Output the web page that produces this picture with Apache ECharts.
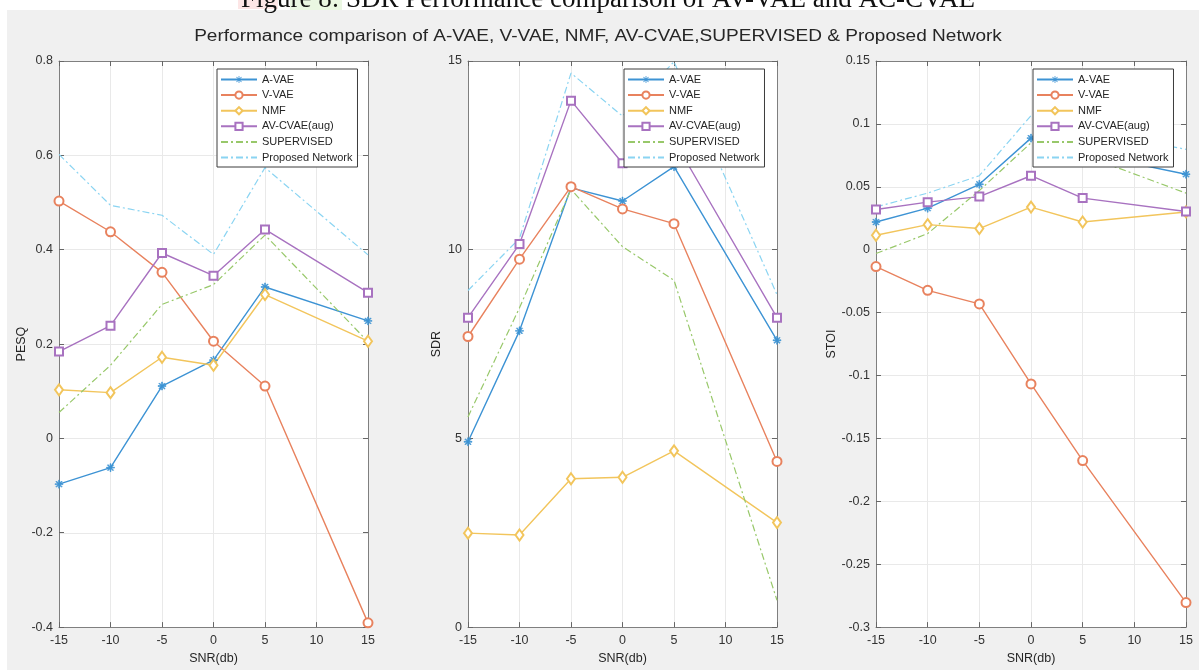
<!DOCTYPE html>
<html><head><meta charset="utf-8">
<script src="https://cdn.jsdelivr.net/npm/echarts@6/dist/echarts.min.js"></script>
<style>html,body{margin:0;padding:0;background:#fff}#c{width:1199px;height:670px}</style>
</head><body><div id="c"></div>
<script>
// ---- data ----
const snr = [-15, -10, -5, 0, 5, 15];
const seriesNames = ['A-VAE', 'V-VAE', 'NMF', 'AV-CVAE(aug)', 'SUPERVISED', 'Proposed Network'];

const pesqAVAE  = [-0.097, -0.062, 0.111, 0.166, 0.321, 0.249];
const pesqVVAE  = [0.503, 0.438, 0.352, 0.206, 0.111, -0.391];
const pesqNMF   = [0.103, 0.097, 0.172, 0.155, 0.305, 0.206];
const pesqAVC   = [0.184, 0.239, 0.393, 0.345, 0.443, 0.309];
const pesqSUP   = [0.055, 0.155, 0.284, 0.326, 0.431, 0.205];
const pesqPROP  = [0.602, 0.494, 0.473, 0.390, 0.574, 0.389];

const sdrAVAE   = [4.91, 7.85, 11.64, 11.29, 12.20, 7.60];
const sdrVVAE   = [7.70, 9.75, 11.67, 11.08, 10.69, 4.39];
const sdrNMF    = [2.49, 2.44, 3.93, 3.97, 4.67, 2.77];
const sdrAVC    = [8.20, 10.15, 13.95, 12.29, 12.90, 8.20];
const sdrSUP    = [5.57, 8.46, 11.60, 10.08, 9.19, 0.71];
const sdrPROP   = [8.92, 10.30, 14.68, 13.54, 14.98, 8.81];

const stoiAVAE  = [0.022, 0.033, 0.052, 0.0887, 0.077, 0.060];
const stoiVVAE  = [-0.0134, -0.0323, -0.0431, -0.1067, -0.1676, -0.2805];
const stoiNMF   = [0.0115, 0.0199, 0.0168, 0.0339, 0.022, 0.030];
const stoiAVC   = [0.032, 0.0378, 0.0422, 0.0588, 0.041, 0.0304];
const stoiSUP   = [-0.003, 0.0128, 0.047, 0.085, 0.0754, 0.045];
const stoiPROP  = [0.034, 0.045, 0.0588, 0.1066, 0.095, 0.0798];

const xMin = -15, xMax = 15, xInterval = 5;
const panelNames = ['PESQ', 'SDR', 'STOI'];
const panelMin = [-0.4, 0, -0.3];
const panelMax = [0.8, 15, 0.15];
const panelInterval = [0.2, 5, 0.05];
const panelData = [
  [pesqAVAE, pesqVVAE, pesqNMF, pesqAVC, pesqSUP, pesqPROP],
  [sdrAVAE, sdrVVAE, sdrNMF, sdrAVC, sdrSUP, sdrPROP],
  [stoiAVAE, stoiVVAE, stoiNMF, stoiAVC, stoiSUP, stoiPROP]
];
const titleText = 'Performance comparison of A-VAE, V-VAE, NMF, AV-CVAE,SUPERVISED & Proposed Network';
const captionText = 'Figure 8: SDR Performance comparison of AV-VAE and AC-CVAE';

// ---- styles ----
const FONT = 'Liberation Sans';
const colors = ['#3d93d4', '#e8825e', '#f2c55c', '#a872c0', '#98c86a', '#8ad4f2'];
const asterisk = 'path://M-5,-0.55L5,-0.55L5,0.55L-5,0.55Z M-0.55,-5L0.55,-5L0.55,5L-0.55,5Z M-3.1,-3.9L3.9,3.1L3.1,3.9L-3.9,-3.1Z M3.1,-3.9L3.9,-3.1L-3.1,3.9L-3.9,3.1Z';
const symbols = [asterisk, 'emptyCircle', 'emptyDiamond', 'emptyRect', 'none', 'none'];
const symbolSizes = [8, 9, [8, 11], 8, 0, 0];
const lineTypes = ['solid', 'solid', 'solid', 'solid', [7, 3, 2, 3], [7, 3, 2, 3]];
const lineWidths = [1.4, 1.4, 1.4, 1.4, 1.2, 1.2];

const grids = [
  { left: 59, top: 61, width: 309, height: 572 },
  { left: 468, top: 61, width: 309, height: 572 },
  { left: 876, top: 61, width: 310, height: 572 }
];
const legendLeft = [217, 624, 1033];
const yNameGap = [31, 25, 35];

const axisLineStyle = { color: '#7f7f7f', width: 1 };
const tickStyle = { show: true, inside: true, length: 5, lineStyle: { color: '#666' } };
const labelStyle = { color: '#333', fontSize: 12.5, fontFamily: FONT };

const xAxes = [], yAxes = [], series = [], legends = [];
for (let g = 0; g < 3; g++) {
  xAxes.push({
    type: 'value', gridIndex: g, min: xMin, max: xMax, interval: xInterval, position: 'bottom',
    name: 'SNR(db)', nameLocation: 'middle', nameGap: 23,
    nameTextStyle: { color: '#262626', fontSize: 12.5, fontFamily: FONT },
    axisLine: { show: true, onZero: false, lineStyle: axisLineStyle },
    axisTick: tickStyle, axisLabel: Object.assign({ margin: 7 }, labelStyle),
    splitLine: { show: true, lineStyle: { color: '#e9e9e9' } }
  });
  yAxes.push({
    type: 'value', gridIndex: g, min: panelMin[g], max: panelMax[g], interval: panelInterval[g], position: 'left',
    name: panelNames[g], nameLocation: 'middle', nameGap: yNameGap[g],
    nameTextStyle: { color: '#262626', fontSize: 12.5, fontFamily: FONT },
    axisLine: { show: true, onZero: false, lineStyle: axisLineStyle },
    axisTick: tickStyle, axisLabel: Object.assign({ margin: 6 }, labelStyle),
    splitLine: { show: true, lineStyle: { color: '#e9e9e9' } }
  });
}
for (let g = 0; g < 3; g++) {
  xAxes.push({
    type: 'value', gridIndex: g, min: xMin, max: xMax, interval: xInterval, position: 'top',
    axisLine: { show: true, onZero: false, lineStyle: axisLineStyle },
    axisTick: tickStyle, axisLabel: { show: false }, splitLine: { show: false }
  });
  yAxes.push({
    type: 'value', gridIndex: g, min: panelMin[g], max: panelMax[g], interval: panelInterval[g], position: 'right',
    axisLine: { show: true, onZero: false, lineStyle: axisLineStyle },
    axisTick: tickStyle, axisLabel: { show: false }, splitLine: { show: false }
  });
}
const legendData = seriesNames.map((n, s) => {
  if (symbols[s] === 'none') return { name: n, itemStyle: { opacity: 0 } };
  if (symbols[s].indexOf('path://') === 0) return { name: n, itemStyle: { borderWidth: 0 } };
  return { name: n };
});
for (let g = 0; g < 3; g++) {
  for (let s = 0; s < 6; s++) {
    series.push({
      type: 'line', name: seriesNames[s], xAxisIndex: g, yAxisIndex: g,
      data: snr.map((x, i) => [x, panelData[g][s][i]]),
      symbol: symbols[s], symbolSize: symbolSizes[s], showSymbol: symbols[s] !== 'none',
      lineStyle: { color: colors[s], width: lineWidths[s], type: lineTypes[s] },
      itemStyle: { color: colors[s], borderColor: colors[s], borderWidth: s === 0 ? 0.6 : 1.2 },
      emphasis: { disabled: true }, animation: false, silent: true
    });
  }
  legends.push({
    orient: 'vertical', left: legendLeft[g], top: 69, data: legendData,
    itemWidth: 36, itemHeight: 9, itemGap: 2.6, padding: [4, 5, 3, 3],
    borderColor: '#3c3c3c', borderWidth: 1, backgroundColor: '#fff', selectedMode: false,
    textStyle: { fontSize: 11, fontFamily: FONT, color: '#262626', lineHeight: 13 }
  });
}

const chart = echarts.init(document.getElementById('c'), null, { renderer: 'canvas' });
chart.setOption({
  animation: false,
  backgroundColor: '#f0f0f0',
  graphic: [
    { type: 'rect', z: -5, shape: { x: 0, y: 0, width: 1199, height: 10 }, style: { fill: '#fff' } },
    { type: 'rect', z: -5, shape: { x: 0, y: 0, width: 7, height: 670 }, style: { fill: '#fff' } },
    { type: 'rect', z: -4, shape: { x: 238, y: 0, width: 40, height: 9 }, style: { fill: '#fde6e6' } },
    { type: 'rect', z: -4, shape: { x: 290, y: 0, width: 52, height: 10 }, style: { fill: '#eaf7e2' } },
    { type: 'text', z: 10, style: { text: captionText, x: 608, y: 13,
      textAlign: 'center', textVerticalAlign: 'bottom', font: '27px "Liberation Serif"', fill: '#111' } },
    { type: 'text', z: 10, x: 598, y: 37, scaleX: 1.19,
      style: { text: titleText, x: 0, y: 0, textAlign: 'center', textVerticalAlign: 'middle',
        font: '16px "Liberation Sans"', fill: '#262626' } }
  ],
  grid: grids.map(g => Object.assign({ show: true, backgroundColor: '#fff', borderWidth: 0 }, g)),
  legend: legends,
  xAxis: xAxes,
  yAxis: yAxes,
  series: series
});
</script></body></html>
